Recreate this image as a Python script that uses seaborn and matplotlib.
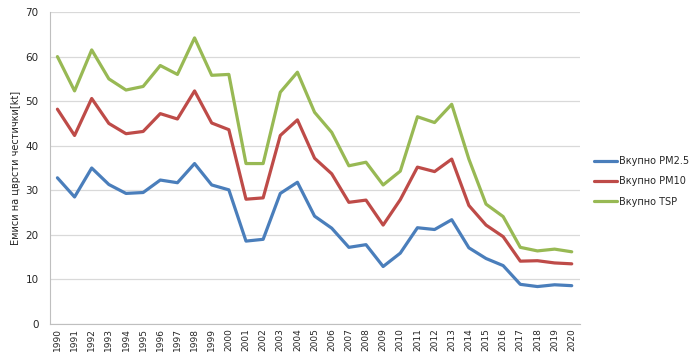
import pandas as pd
import numpy as np
import seaborn as sns
import matplotlib
matplotlib.use('Agg')
import matplotlib.pyplot as plt

# %% data
years = list(range(1990, 2021))
pm25 = [32.8, 28.5, 35.0, 31.3, 29.3, 29.5, 32.3, 31.7, 36.0, 31.2, 30.1,
        18.6, 19.0, 29.3, 31.8, 24.2, 21.5, 17.2, 17.8, 12.9, 15.9,
        21.6, 21.2, 23.4, 17.1, 14.7, 13.1, 8.9, 8.4, 8.8, 8.6]
pm10 = [48.2, 42.3, 50.6, 45.0, 42.7, 43.2, 47.2, 46.0, 52.3, 45.1, 43.6,
        28.0, 28.3, 42.3, 45.8, 37.2, 33.7, 27.3, 27.8, 22.2, 27.9,
        35.2, 34.2, 37.0, 26.6, 22.2, 19.6, 14.1, 14.2, 13.7, 13.5]
tsp = [60.0, 52.3, 61.5, 55.0, 52.5, 53.3, 58.0, 56.0, 64.2, 55.8, 56.0,
       36.0, 36.0, 52.0, 56.5, 47.5, 43.0, 35.5, 36.3, 31.2, 34.3,
       46.5, 45.2, 49.3, 37.0, 26.9, 24.1, 17.2, 16.4, 16.8, 16.2]
series_names = ['Вкупно PM2.5', 'Вкупно PM10', 'Вкупно TSP']
palette = ['#4A7EBB', '#BE4B48', '#98B954']

df = pd.DataFrame({'year': years, series_names[0]: pm25,
                   series_names[1]: pm10, series_names[2]: tsp})
df_long = df.melt(id_vars='year', var_name='series', value_name='value')

# %% plot
sns.set_style('white')
plt.rcParams['font.family'] = ['DejaVu Sans']

fig = plt.figure(figsize=(7, 3.59), dpi=100)
ax = fig.add_axes([0.071, 0.0975, 0.758, 0.869])

sns.lineplot(data=df_long, x='year', y='value', hue='series',
             hue_order=series_names, palette=palette, linewidth=2.3,
             ax=ax)

ax.set_xlim(1989.55, 2020.5)
ax.set_ylim(0, 70)
ax.set_yticks(np.arange(0, 71, 10))
ax.set_xticks(years)
ax.set_xticklabels([str(y) for y in years], rotation=90, fontsize=6.5)
ax.tick_params(axis='y', labelsize=7.5, length=0, pad=8)
ax.tick_params(axis='x', length=0, pad=3)
ax.yaxis.grid(True, color='#d9d9d9', linewidth=0.9)
ax.set_axisbelow(True)
for s in ['top', 'right']:
    ax.spines[s].set_visible(False)
ax.spines['left'].set_color('#bfbfbf')
ax.spines['bottom'].set_color('#bfbfbf')

ax.set_xlabel('')
ax.set_ylabel('Емиси на цврсти честички[kt]', fontsize=7)
ax.yaxis.set_label_coords(-0.055, 0.5)

ax.legend(loc='center left', bbox_to_anchor=(0.848, 0.495),
          bbox_transform=fig.transFigure, borderaxespad=0, borderpad=0,
          frameon=False, fontsize=7, handlelength=2.4,
          handletextpad=0.2, labelspacing=1.05)

fig.savefig('out.png', dpi=100)
